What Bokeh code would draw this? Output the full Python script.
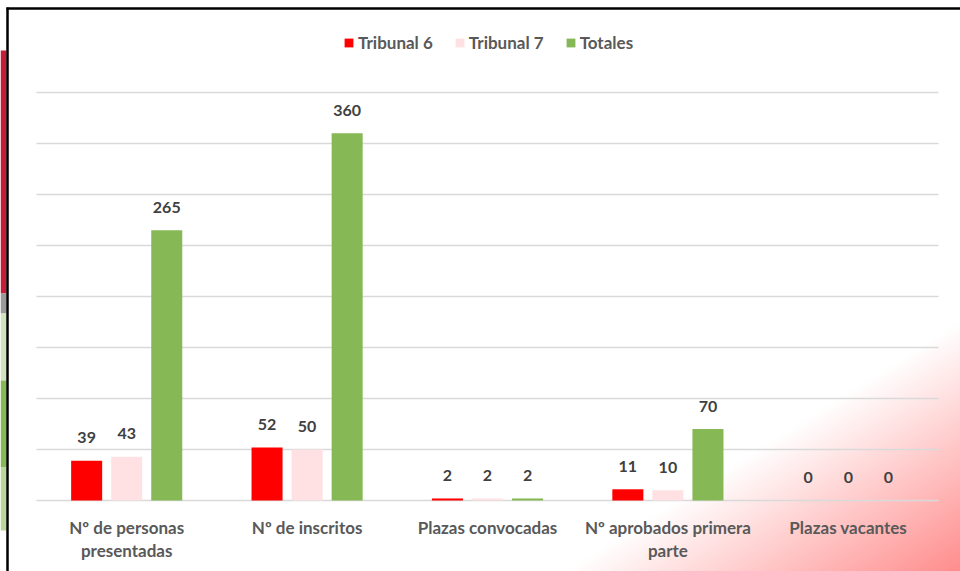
import numpy as np
from bokeh.plotting import figure
from bokeh.models import Range1d, Legend, LegendItem, ColumnDataSource
from bokeh.core.properties import value
from bokeh.embed import file_html
from bokeh.resources import INLINE

# ---------------- data ----------------
categories = ["Nº de personas\npresentadas", "Nº de inscritos", "Plazas convocadas",
              "Nº aprobados primera\nparte", "Plazas vacantes"]
series_names = ["Tribunal 6", "Tribunal 7", "Totales"]
tribunal6 = [39, 52, 2, 11, 0]
tribunal7 = [43, 50, 2, 10, 0]
totales = [265, 360, 2, 70, 0]
grid_ticks = [0, 50, 100, 150, 200, 250, 300, 350, 400]

colors = ["#FF0000", "#FFE1E3", "#86B955"]
FONT = value("Lato")

# ---------------- layout ----------------
W, H = 960, 571
left_px, right_px = 36, 938      # plot area horizontally (figure px)
base_px, top_px = 500, 92        # y=0 and y=400 (figure px from top)
n = len(categories)
ppc = (right_px - left_px) / n
ppv = (base_px - top_px) / grid_ticks[-1]
x_start = -left_px / ppc
x_end = n + (W - right_px) / ppc
y_start = -(H - base_px) / ppv
y_end = grid_ticks[-1] + top_px / ppv


def dx(px):
    return x_start + px / ppc


def dy(py):
    return y_end - py / ppv


p = figure(width=W, height=H, output_backend="svg", toolbar_location=None,
           x_range=Range1d(x_start, x_end), y_range=Range1d(y_start, y_end),
           x_axis_type=None, y_axis_type=None, min_border=0,
           background_fill_color="white", border_fill_color="white")
p.outline_line_color = None
p.grid.visible = False

# ---------------- decorative gradient (bottom right) ----------------
gx0, gy0 = 530, 300
gw, gh = W - gx0, H - gy0
xs = np.arange(gw) + gx0 + 0.5
ys = np.arange(gh) + gy0 + 0.5
X, Y = np.meshgrid(xs, ys)
d = ((X - 560) * 251 + (Y - 571) * 397) / 469.7
t = np.clip(d / 212.0, 0, 1)
alpha = 0.45 * t
img = np.empty((gh, gw), dtype=np.uint32)
view = img.view(dtype=np.uint8).reshape((gh, gw, 4))
view[:, :, 0] = 255
view[:, :, 1] = 0
view[:, :, 2] = 0
view[:, :, 3] = (alpha * 255).astype(np.uint8)
img = np.flipud(img)
p.image_rgba(image=[img], x=dx(gx0), y=y_start, dw=gw / ppc, dh=gh / ppv, level="image")

# ---------------- decorative left strip ----------------
strip_top = [50, 293, 313, 380, 467]
strip_bot = [293, 313, 380, 467, 530]
strip_col = ["#C51F38", "#9A9A9A", "#CFE3BC", "#86B955", "#B9D79A"]
p.quad(left=[dx(0)] * 5, right=[dx(6)] * 5, top=[dy(v) for v in strip_top],
       bottom=[dy(v) for v in strip_bot], fill_color=strip_col, line_color=None)

# ---------------- gridlines ----------------
p.segment(x0=[0] * len(grid_ticks), x1=[n] * len(grid_ticks), y0=grid_ticks, y1=grid_ticks,
          line_color="#D9D9D9", line_width=1.6)

# ---------------- bars ----------------
offsets = [-0.222, 0.0, 0.222]
bar_w = 0.172
renderers = []
for vals, off, col in zip([tribunal6, tribunal7, totales], offsets, colors):
    src = ColumnDataSource(dict(x=[i + 0.5 + off for i in range(n)], top=vals,
                                lbl=[str(v) for v in vals]))
    r = p.vbar(x="x", top="top", width=bar_w, bottom=0, source=src,
               fill_color=col, line_color=None)
    renderers.append(r)
    p.text(x="x", y="top", text="lbl", source=src, text_align="center",
           text_baseline="middle", y_offset=-23, text_font=FONT,
           text_font_style="bold", text_font_size="16px", text_color="#404040")

# ---------------- category labels ----------------
p.text(x=[i + 0.5 for i in range(n)], y=[0] * n, text=categories,
       text_align="center", text_baseline="top", y_offset=16,
       text_font=FONT, text_font_style="bold", text_font_size="17px",
       text_color="#595959", text_line_height=1.1)

# ---------------- legend ----------------
legend = Legend(items=[LegendItem(label=nm, renderers=[r]) for nm, r in zip(series_names, renderers)],
                orientation="horizontal", location=(343, 518),
                glyph_width=11, glyph_height=11, label_height=18,
                label_standoff=4, spacing=21, padding=0, margin=0,
                border_line_color=None, background_fill_alpha=0,
                label_text_font="Lato", label_text_font_style="bold",
                label_text_font_size="17px", label_text_color="#595959")
p.add_layout(legend, "center")

# ---------------- frame borders (top, left) ----------------
p.segment(x0=[dx(6), dx(7)], y0=[dy(8), dy(7)], x1=[x_end, dx(7)], y1=[dy(8), y_start],
          line_color="black", line_width=2.5)

open("out.html", "w").write(file_html(p, INLINE))
